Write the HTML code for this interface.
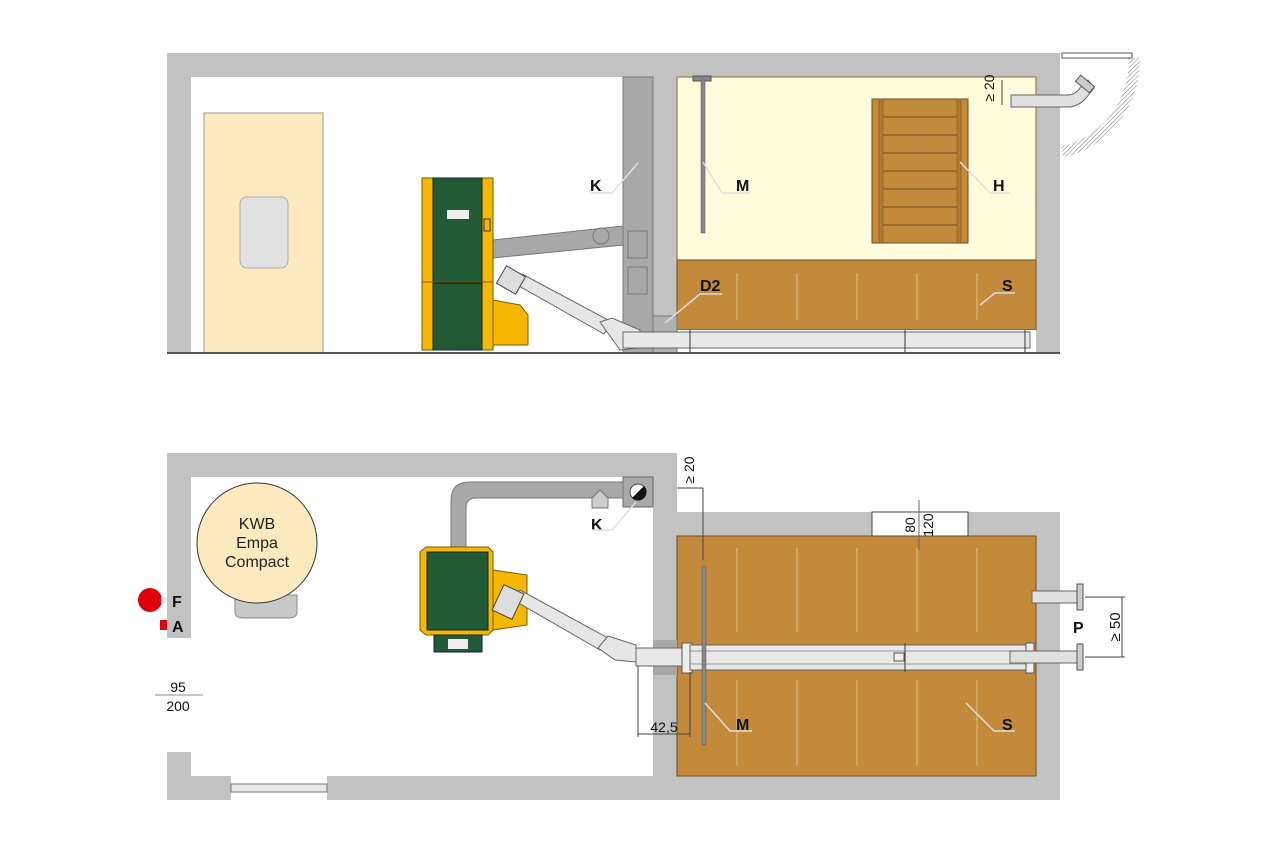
<!DOCTYPE html>
<html><head><meta charset="utf-8"><style>html,body{margin:0;padding:0;background:#fff}svg{display:block}</style></head>
<body>
<svg width="1280" height="854" viewBox="0 0 1280 854" xmlns="http://www.w3.org/2000/svg" font-family="Liberation Sans, sans-serif">
<defs>
<pattern id="hatch" width="3" height="3" patternUnits="userSpaceOnUse" patternTransform="rotate(45)"><line x1="0" y1="0" x2="0" y2="3" stroke="#777" stroke-width="1"/></pattern>
</defs>
<!-- ================= TOP SECTION ================= -->
<rect x="167" y="53" width="893" height="300" fill="#c2c2c2"/>
<rect x="191" y="77" width="432" height="276" fill="#fff"/>
<rect x="677" y="77" width="359" height="183" fill="#fffbdd" stroke="#8a6a30" stroke-width="1"/>
<rect x="677" y="260" width="359" height="70" fill="#c48a3c" stroke="#6e4e1e" stroke-width="1"/>
<rect x="677" y="330" width="359" height="23" fill="#fff"/>
<g stroke="#e2c08a" stroke-width="1"><line x1="737" y1="273" x2="737" y2="320"/><line x1="797" y1="273" x2="797" y2="320"/><line x1="857" y1="273" x2="857" y2="320"/><line x1="917" y1="273" x2="917" y2="320"/><line x1="977" y1="273" x2="977" y2="320"/></g>
<!-- chimney -->
<rect x="623" y="77" width="30" height="276" fill="#a8a8a8" stroke="#777" stroke-width="1"/>
<rect x="628" y="231" width="19" height="27" fill="#a8a8a8" stroke="#777"/>
<rect x="628" y="267" width="19" height="27" fill="#a8a8a8" stroke="#777"/>
<rect x="653" y="316" width="24" height="37" fill="#b0b0b0" stroke="#777"/>
<!-- door -->
<rect x="204" y="113" width="119" height="240" fill="#fde9c0" stroke="#999"/>
<rect x="240" y="197" width="48" height="71" rx="7" fill="#e2e2e2" stroke="#aaa"/>
<line x1="167" y1="353" x2="1060" y2="353" stroke="#555" stroke-width="2"/>
<!-- flue -->
<polygon points="493,240 623,226 623,245 493,258" fill="#a8a8a8" stroke="#777"/>
<circle cx="601" cy="236" r="8" fill="#a8a8a8" stroke="#777"/>
<!-- boiler -->
<rect x="422" y="178" width="71" height="172" fill="#f6b700" stroke="#7a5a00"/>
<rect x="433" y="178" width="49" height="172" fill="#235a36" stroke="#123"/>
<line x1="433" y1="283" x2="482" y2="283" stroke="#111"/>
<line x1="422" y1="282" x2="493" y2="282" stroke="#7a5a00"/>
<rect x="447" y="210" width="22" height="9" fill="#eee"/>
<rect x="484" y="219" width="6" height="12" fill="#f6b700" stroke="#333"/>
<polygon points="493,300 520,305 528,315 528,345 493,345" fill="#f6b700" stroke="#7a5a00"/>
<!-- auger -->
<polygon points="512,282 522,274 612,322 604,334" fill="#e6e6e6" stroke="#666"/>
<rect x="500" y="270" width="22" height="20" transform="rotate(30 511 280)" fill="#ddd" stroke="#444"/>
<polygon points="600,322 612,318 640,330 638,348 620,350" fill="#e6e6e6" stroke="#666"/>
<rect x="623" y="332" width="407" height="16" fill="#e8e8e8" stroke="#666"/>
<line x1="690" y1="330" x2="690" y2="352" stroke="#333"/><line x1="905" y1="330" x2="905" y2="352" stroke="#333"/><line x1="1025" y1="330" x2="1025" y2="352" stroke="#333"/>
<!-- M rod -->
<rect x="693" y="76" width="18" height="5" fill="#888" stroke="#555"/>
<rect x="701" y="80" width="4" height="153" fill="#888" stroke="#555" stroke-width="0.5"/>
<!-- ladder H -->
<rect x="872" y="99" width="96" height="144" fill="#c48a3c" stroke="#6e4e1e"/>
<rect x="879" y="99" width="4" height="144" fill="#b07a30" stroke="#6e4e1e" stroke-width="0.5"/>
<rect x="957" y="99" width="4" height="144" fill="#b07a30" stroke="#6e4e1e" stroke-width="0.5"/>
<g stroke="#6e4e1e"><line x1="883" y1="117" x2="957" y2="117"/><line x1="883" y1="135" x2="957" y2="135"/><line x1="883" y1="153" x2="957" y2="153"/><line x1="883" y1="171" x2="957" y2="171"/><line x1="883" y1="189" x2="957" y2="189"/><line x1="883" y1="207" x2="957" y2="207"/><line x1="883" y1="225" x2="957" y2="225"/></g>
<!-- exterior pipe & door arc -->
<rect x="1060" y="48" width="80" height="160" fill="#fff"/>
<path d="M1062,152 A92,92 0 0 0 1134,58" fill="none" stroke="url(#hatch)" stroke-width="11"/>
<rect x="1062" y="53" width="70" height="5" fill="#fff" stroke="#555"/>
<path d="M1011,95 L1068,95 Q1075,95 1080,88 L1088,80 L1094,88 L1086,98 Q1078,107 1068,107 L1011,107 Z" fill="#e0e0e0" stroke="#666"/>
<rect x="1076" y="80" width="18" height="8" transform="rotate(40 1085 84)" fill="#ccc" stroke="#555"/>
<line x1="1002" y1="80" x2="1002" y2="105" stroke="#444"/>
<text x="994" y="88" font-size="14" transform="rotate(-90 994 88)" text-anchor="middle" fill="#111">≥ 20</text>
<!-- top labels -->
<g font-weight="bold" font-size="16" fill="#111">
<text x="590" y="191">K</text><text x="736" y="191">M</text><text x="993" y="191">H</text><text x="700" y="291">D2</text><text x="1002" y="291">S</text></g>
<g stroke="#ddd" stroke-width="1.5" fill="none">
<polyline points="638,163 612,193 590,193"/><polyline points="703,162 722,193 750,193"/><polyline points="960,162 990,193 1010,193"/>
<polyline points="665,323 700,294 722,294"/><polyline points="980,305 995,293 1015,293"/></g>

<!-- ================= BOTTOM SECTION ================= -->
<rect x="167" y="453" width="510" height="347" fill="#c2c2c2"/>
<rect x="653" y="512" width="407" height="288" fill="#c2c2c2"/>
<rect x="191" y="477" width="462" height="299" fill="#fff"/>
<rect x="167" y="638" width="24" height="114" fill="#fff"/>
<rect x="231" y="776" width="96" height="24" fill="#fff"/>
<rect x="231" y="784" width="96" height="8" fill="#e8e8e8" stroke="#777"/>
<rect x="677" y="536" width="359" height="240" fill="#c48a3c" stroke="#6e4e1e"/>
<g stroke="#e2c08a" stroke-width="1"><line x1="737" y1="548" x2="737" y2="632"/><line x1="797" y1="548" x2="797" y2="632"/><line x1="857" y1="548" x2="857" y2="632"/><line x1="917" y1="548" x2="917" y2="632"/><line x1="977" y1="548" x2="977" y2="632"/>
<line x1="737" y1="680" x2="737" y2="765"/><line x1="797" y1="680" x2="797" y2="765"/><line x1="857" y1="680" x2="857" y2="765"/><line x1="917" y1="680" x2="917" y2="765"/><line x1="977" y1="680" x2="977" y2="765"/></g>
<!-- hatch opening 80/120 -->
<rect x="872" y="512" width="96" height="24" fill="#fff" stroke="#444"/>
<line x1="919" y1="500" x2="919" y2="550" stroke="#666"/>
<text x="915" y="525" font-size="14" text-anchor="middle" transform="rotate(-90 915 525)" fill="#111">80</text>
<text x="933" y="525" font-size="14" text-anchor="middle" transform="rotate(-90 933 525)" fill="#111">120</text>
<!-- chimney K square -->
<rect x="623" y="477" width="30" height="30" fill="#a8a8a8" stroke="#666"/>
<circle cx="638" cy="492" r="8" fill="#fff" stroke="#444"/>
<path d="M644,486 A8,8 0 0 1 632,498 Z" fill="#111"/>
<!-- flue -->
<path d="M451,547 L451,500 Q451,482 470,482 L623,482 L623,498 L476,498 Q466,498 466,508 L466,547 Z" fill="#a8a8a8" stroke="#777"/>
<polygon points="592,498 600,490 608,498 608,508 592,508" fill="#ccc" stroke="#777"/>
<!-- KWB -->
<path d="M235,595 L297,595 L297,612 Q297,618 288,618 L244,618 Q235,618 235,612 Z" fill="#c8c8c8" stroke="#888"/>
<circle cx="257" cy="543" r="60" fill="#fde9c0" stroke="#333"/>
<text x="257" y="529" font-size="16" text-anchor="middle" fill="#222">KWB</text>
<text x="257" y="548" font-size="16" text-anchor="middle" fill="#222">Empa</text>
<text x="257" y="567" font-size="16" text-anchor="middle" fill="#222">Compact</text>
<circle cx="150" cy="600" r="12" fill="#e00010"/>
<rect x="161" y="597" width="6" height="6" fill="#eee"/>
<rect x="160" y="620" width="7" height="10" fill="#e00010"/>
<g font-weight="bold" font-size="16" fill="#111"><text x="172" y="607">F</text><text x="172" y="632">A</text></g>
<text x="178" y="692" font-size="14" text-anchor="middle" fill="#111">95</text>
<line x1="155" y1="695" x2="203" y2="695" stroke="#888"/>
<text x="178" y="711" font-size="14" text-anchor="middle" fill="#111">200</text>
<!-- boiler bottom -->
<polygon points="426,547 488,547 493,552 493,630 488,635 426,635 420,630 420,552" fill="#f6b700" stroke="#7a5a00"/>
<rect x="427" y="552" width="61" height="78" fill="#235a36" stroke="#123"/>
<rect x="434" y="635" width="48" height="17" fill="#235a36" stroke="#123"/>
<rect x="448" y="639" width="20" height="10" fill="#eee"/>
<polygon points="493,570 527,575 527,625 493,630" fill="#f6b700" stroke="#7a5a00"/>
<!-- auger bottom -->
<polygon points="510,598 520,590 608,638 600,650" fill="#e6e6e6" stroke="#666"/>
<rect x="497" y="588" width="22" height="28" transform="rotate(25 508 602)" fill="#ddd" stroke="#444"/>
<polygon points="598,648 608,636 636,645 636,662 615,660" fill="#e6e6e6" stroke="#666"/>
<rect x="653" y="640" width="24" height="35" fill="#a8a8a8"/>
<rect x="636" y="648" width="50" height="18" fill="#e8e8e8" stroke="#666"/>
<rect x="682" y="643" width="10" height="30" fill="#eee" stroke="#555"/>
<rect x="690" y="645" width="340" height="25" fill="#e8e8e8" stroke="#666"/>
<line x1="690" y1="651" x2="1030" y2="651" stroke="#999"/><line x1="690" y1="664" x2="1030" y2="664" stroke="#999"/>
<line x1="905" y1="643" x2="905" y2="672" stroke="#333"/>
<rect x="894" y="653" width="10" height="8" fill="#eee" stroke="#555"/>
<rect x="1026" y="643" width="8" height="30" fill="#eee" stroke="#555"/>
<!-- P pipes -->
<rect x="1032" y="591" width="45" height="12" fill="#e0e0e0" stroke="#666"/>
<rect x="1077" y="584" width="6" height="26" fill="#ccc" stroke="#555"/>
<rect x="1010" y="651" width="67" height="12" fill="#e0e0e0" stroke="#666"/>
<rect x="1077" y="644" width="6" height="26" fill="#ccc" stroke="#555"/>
<g stroke="#444"><line x1="1085" y1="597" x2="1125" y2="597"/><line x1="1085" y1="657" x2="1125" y2="657"/><line x1="1122" y1="597" x2="1122" y2="657"/></g>
<text x="1120" y="627" font-size="15" text-anchor="middle" transform="rotate(-90 1120 627)" fill="#111">≥ 50</text>
<text x="1073" y="633" font-weight="bold" font-size="16" fill="#111">P</text>
<!-- M rod bottom -->
<rect x="702" y="566" width="4" height="179" fill="#888" stroke="#555" stroke-width="0.5"/>
<!-- dims -->
<g stroke="#444"><line x1="677" y1="488" x2="703" y2="488"/><line x1="703" y1="488" x2="703" y2="560"/>
<line x1="638" y1="666" x2="638" y2="737"/><line x1="690" y1="672" x2="690" y2="737"/><line x1="638" y1="734" x2="690" y2="734"/></g>
<text x="694" y="470" font-size="14" text-anchor="middle" transform="rotate(-90 694 470)" fill="#111">≥ 20</text>
<text x="664" y="732" font-size="14" text-anchor="middle" fill="#111">42,5</text>
<!-- bottom labels -->
<g font-weight="bold" font-size="16" fill="#111"><text x="591" y="530">K</text><text x="736" y="730">M</text><text x="1002" y="730">S</text></g>
<g stroke="#ddd" stroke-width="1.5" fill="none">
<polyline points="636,502 612,530 592,530"/><polyline points="705,703 730,731 752,731"/><polyline points="966,703 994,731 1015,731"/></g>
</svg>
</body></html>
